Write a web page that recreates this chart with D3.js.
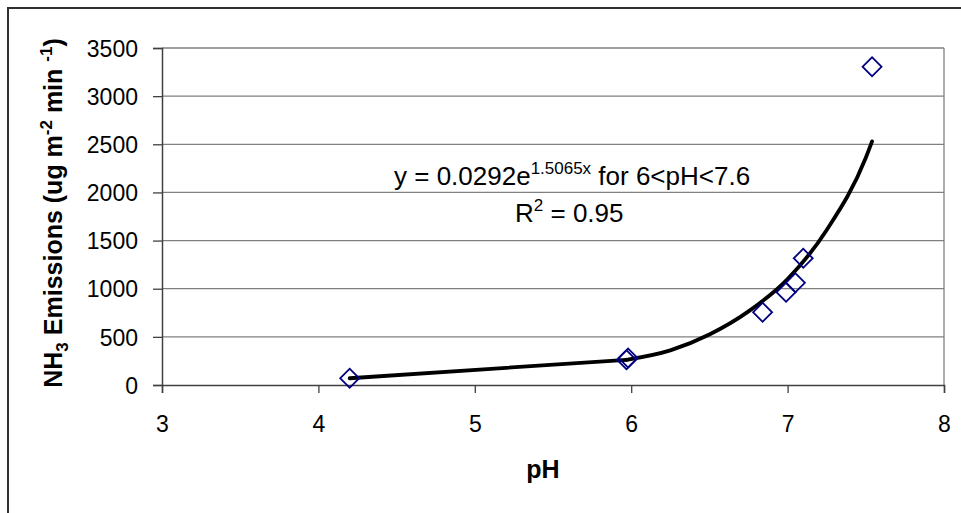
<!DOCTYPE html>
<html>
<head>
<meta charset="utf-8">
<script src="https://cdn.jsdelivr.net/npm/d3@7"></script>
<style>
  body { margin: 0; background: #fff; }
  svg { display: block; font-family: Arial, "Liberation Sans", sans-serif; }
</style>
</head>
<body>
<div id="chart"></div>
<script>
// measured data (pH vs emissions)
const phValues = [4.2, 5.97, 5.98, 6.84, 6.99, 7.05, 7.10, 7.54];
const emissions = [70, 262, 280, 755, 963, 1062, 1316, 3306];

// line drawn by hand through the data
const linePh = [4.2, 5.97];
const lineVal = [70, 262];
const trendPh = [5.97, 6.25, 6.5, 6.75, 7.0, 7.25, 7.5, 7.54];
const trendVal = [262, 360, 525, 765, 1100, 1610, 2360, 2530];

const xTicks = [3, 4, 5, 6, 7, 8];
const yTicks = [0, 500, 1000, 1500, 2000, 2500, 3000, 3500];

const W = 961, H = 513;
const plot = { left: 162, right: 944, top: 48, bottom: 385 };
const tickFont = "23px";

const svg = d3.select("#chart").append("svg")
    .attr("width", W)
    .attr("height", H);

// outer chart frame (only top / left edges visible)
svg.append("path")
    .attr("d", "M8,513 L8,8 L961,8")
    .attr("fill", "none")
    .attr("stroke", "#303030")
    .attr("stroke-width", 2);

const x = d3.scaleLinear().domain([3, 8]).range([plot.left, plot.right]);
const y = d3.scaleLinear().domain([0, 3500]).range([plot.bottom, plot.top]);

// gridlines
svg.append("g")
    .selectAll("line")
    .data(yTicks.slice(1))
    .join("line")
    .attr("x1", plot.left)
    .attr("x2", plot.right)
    .attr("y1", d => y(d))
    .attr("y2", d => y(d))
    .attr("stroke", "#808080")
    .attr("stroke-width", 1.3);

// right edge of plot area
svg.append("line")
    .attr("x1", plot.right).attr("x2", plot.right)
    .attr("y1", plot.top).attr("y2", plot.bottom)
    .attr("stroke", "#808080")
    .attr("stroke-width", 1.3);

// axes
let yAxis = svg.append("g")
    .attr("transform", "translate(" + plot.left + ",0)")
    .call(d3.axisLeft(y).tickValues(yTicks).tickFormat(d3.format("d")).tickSize(9).tickPadding(15));

let xAxis = svg.append("g")
    .attr("transform", "translate(0," + plot.bottom + ")")
    .call(d3.axisBottom(x).tickValues(xTicks).tickFormat(d3.format("d")).tickSize(8).tickPadding(23));

[yAxis, xAxis].forEach(ax => {
    ax.select(".domain").attr("stroke", "#404040").attr("stroke-width", 1.5);
    ax.selectAll(".tick line").attr("stroke", "#404040").attr("stroke-width", 1.3);
    ax.selectAll(".tick text")
        .attr("fill", "#000")
        .style("font-size", tickFont)
        .style("font-family", "Arial, 'Liberation Sans', sans-serif");
});
yAxis.selectAll(".tick text").attr("dy", "0.36em");

// trend / connecting line
let lineGen = d3.line().x(d => x(d[0])).y(d => y(d[1]));

svg.append("path")
    .datum(d3.zip(linePh, lineVal))
    .attr("d", lineGen)
    .attr("fill", "none")
    .attr("stroke", "#000")
    .attr("stroke-width", 3.8)
    .attr("stroke-linecap", "round");

svg.append("path")
    .datum(d3.zip(trendPh, trendVal))
    .attr("d", lineGen.curve(d3.curveMonotoneX))
    .attr("fill", "none")
    .attr("stroke", "#000")
    .attr("stroke-width", 3.8)
    .attr("stroke-linecap", "round");

// markers
svg.append("g")
    .selectAll("path")
    .data(d3.zip(phValues, emissions))
    .join("path")
    .attr("d", d3.symbol(d3.symbolSquare, 180))
    .attr("transform", d => "translate(" + x(d[0]) + "," + y(d[1]) + ") rotate(45)")
    .attr("fill", "none")
    .attr("stroke", "#000080")
    .attr("stroke-width", 1.8);

// equation label
let eq = svg.append("text")
    .attr("x", 394)
    .attr("y", 185)
    .style("font-size", "26px");
eq.append("tspan").text("y = 0.0292e");
eq.append("tspan").attr("dy", -11).style("font-size", "17px").text("1.5065x");
eq.append("tspan").attr("dy", 11).text(" for 6<pH<7.6");

let r2 = svg.append("text")
    .attr("x", 515)
    .attr("y", 222)
    .style("font-size", "26px");
r2.append("tspan").text("R");
r2.append("tspan").attr("dy", -11).style("font-size", "17px").text("2");
r2.append("tspan").attr("dy", 11).text(" = 0.95");

// axis titles
svg.append("text")
    .attr("x", x(5.5) - 10)
    .attr("y", 478)
    .attr("text-anchor", "middle")
    .style("font-size", "25px")
    .style("font-weight", "bold")
    .text("pH");

let yt = svg.append("text")
    .attr("transform", "translate(62,213) rotate(-90)")
    .attr("text-anchor", "middle")
    .style("font-size", "25px")
    .style("font-weight", "bold");
yt.append("tspan").text("NH");
yt.append("tspan").attr("dy", 6).style("font-size", "17px").text("3");
yt.append("tspan").attr("dy", -6).text(" Emissions (ug m");
yt.append("tspan").attr("dy", -10).style("font-size", "17px").text("-2");
yt.append("tspan").attr("dy", 10).text(" min ");
yt.append("tspan").attr("dy", -10).style("font-size", "17px").text("-1");
yt.append("tspan").attr("dy", 10).text(")");
</script>
</body>
</html>
